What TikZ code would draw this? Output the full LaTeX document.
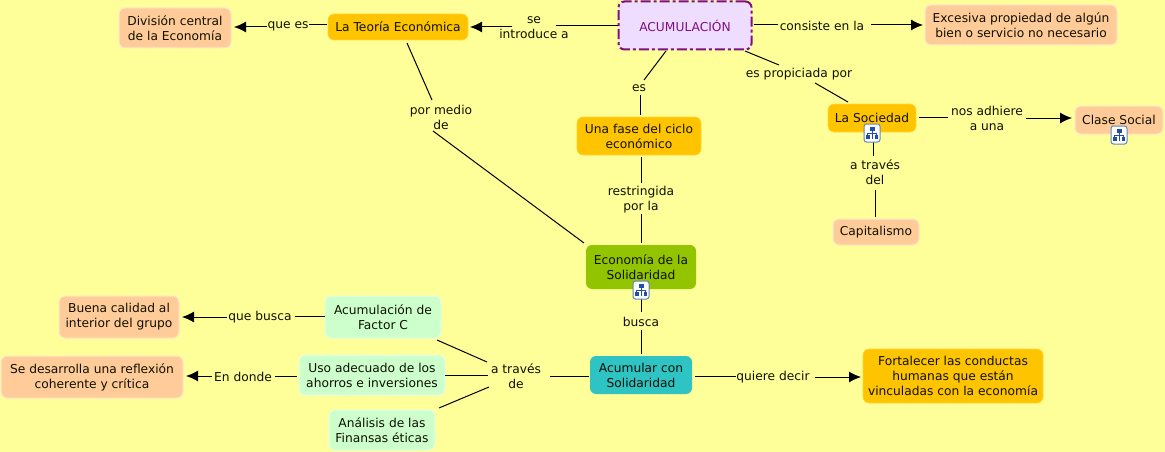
\documentclass[tikz,border=0pt]{standalone}
\usepackage{fontspec}
\setmainfont{DejaVu Sans}
\usetikzlibrary{arrows.meta}
\definecolor{bgc}{HTML}{FFFF99}
\definecolor{peach}{HTML}{FFCC99}
\definecolor{amber}{HTML}{FFC400}
\definecolor{leaf}{HTML}{93C400}
\definecolor{teal2}{HTML}{2EC4C4}
\definecolor{mint}{HTML}{CCFFCC}
\definecolor{lilac}{HTML}{EEDDFF}
\definecolor{purp}{HTML}{800F80}
\definecolor{ink}{HTML}{101000}
\definecolor{iconb}{HTML}{1F4FA8}
\tikzset{
  x=1pt,y=-1pt,
  box/.style={rectangle,rounded corners=6pt,align=center,inner sep=0pt,text=ink,
    font=\fontsize{12.25}{15}\selectfont},
  peachbox/.style={box,fill=peach,draw=peach!50!white,line width=1pt},
  amberbox/.style={box,fill=amber,draw=amber!70!bgc,line width=.6pt},
  mintbox/.style={box,fill=mint,draw=mint!50!white,line width=1pt},
  lbl/.style={align=center,inner sep=0pt,text=ink,font=\fontsize{12.25}{15}\selectfont},
  conn/.style={draw=black,line width=1pt},
  arrow/.style={conn,-{Latex[length=12pt,width=11pt]}},
  hierbox/.style={rectangle,rounded corners=2.5pt,draw=iconb!70!white,fill=white,line width=1pt,
    minimum width=16pt,minimum height=18pt,inner sep=0pt},
  hierpart/.style={fill=iconb,draw=none},
  hierline/.style={draw=iconb,line width=.6pt}
}
\newcommand{\hiericon}[2]{%
  \node[hierbox] (#1) at (#2) {};
  \fill[hierpart] ([shift={(-2.5,-6)}]#1.center) rectangle ([shift={(2.5,-2.5)}]#1.center);
  \fill[hierpart] ([shift={(-6,2)}]#1.center) rectangle ([shift={(-2.5,6)}]#1.center);
  \fill[hierpart] ([shift={(2.5,2)}]#1.center) rectangle ([shift={(6,6)}]#1.center);
  \draw[hierline] ([shift={(0,-2.5)}]#1.center) -- ([shift={(0,6)}]#1.center);
  \draw[hierline] ([shift={(-4.5,2)}]#1.center) -- ([shift={(-4.5,0)}]#1.center) -- ([shift={(4.5,0)}]#1.center) -- ([shift={(4.5,2)}]#1.center);
}
\newcommand{\off}[3]{([shift={(#2,#3)}]#1.center)}
\begin{document}
\begin{tikzpicture}
\useasboundingbox[fill=bgc] (0,0) rectangle (1165,452);
% concepts
\node[box,fill=lilac,draw=purp,line width=2pt,dash pattern=on 10pt off 3pt on 3pt off 3pt,text=purp,minimum width=133pt,minimum height=48pt] (acum) at (685,25.5) {\raisebox{-1pt}{ACUMULACIÓN}};
\node[amberbox,minimum width=140pt,minimum height=26pt] (teoria) at (398,27) {\raisebox{-1pt}{La Teoría Económica}};
\node[peachbox,minimum width=112pt,minimum height=40pt] (division) at (175,28) {División central\\de la Economía};
\node[peachbox,minimum width=192pt,minimum height=40pt] (excesiva) at (1021,25) {Excesiva propiedad de algún\\bien o servicio no necesario};
\node[amberbox,minimum width=124pt,minimum height=38pt] (fase) at (639,136) {Una fase del ciclo\\económico};
\node[amberbox,minimum width=88pt,minimum height=28pt] (sociedad) at (872,118) {\raisebox{1pt}{La Sociedad}};
\node[peachbox,minimum width=88pt,minimum height=28pt] (clase) at (1119,120) {\raisebox{1pt}{Clase Social}};
\node[peachbox,minimum width=86pt,minimum height=26pt] (capital) at (876,232) {Capitalismo};
\node[box,fill=leaf,minimum width=110pt,minimum height=44pt] (econ) at (641,267) {Economía de la\\Solidaridad};
\node[box,fill=teal2,minimum width=102pt,minimum height=38pt] (acumular) at (641,375) {Acumular con\\Solidaridad};
\node[amberbox,minimum width=180pt,minimum height=54pt] (fort) at (953,376) {Fortalecer las conductas\\humanas que están\\vinculadas con la economía};
\node[mintbox,minimum width=116pt,minimum height=42pt] (factor) at (383,317) {Acumulación de\\Factor C};
\node[mintbox,minimum width=146pt,minimum height=40pt] (uso) at (372,375) {Uso adecuado de los\\ahorros e inversiones};
\node[mintbox,minimum width=106pt,minimum height=40pt] (analisis) at (382,430) {Análisis de las\\Finansas éticas};
\node[peachbox,minimum width=120pt,minimum height=42pt] (buena) at (119,317) {Buena calidad al\\interior del grupo};
\node[peachbox,minimum width=182pt,minimum height=42pt] (sedes) at (92,377) {Se desarrolla una reflexión\\coherente y crítica};
% link labels
\node[lbl] (lqe) at (288,26) {que es};
\node[lbl] (lse) at (534,27.5) {se\\introduce a};
\node[lbl] (lcon) at (822,26) {consiste en la};
\node[lbl] (lpro) at (799,74) {es propiciada por};
\node[lbl] (les) at (639,88) {es};
\node[lbl] (lpor) at (441,117.5) {por medio\\de};
\node[lbl] (lres) at (641,200) {restringida\\por la};
\node[lbl] (lnos) at (987,118) {nos adhiere\\a una};
\node[lbl] (latd) at (875,172) {a través\\del};
\node[lbl] (lbus) at (641,322) {busca};
\node[lbl] (latr) at (516,376) {a través\\de};
\node[lbl] (lqui) at (773,377) {quiere decir};
\node[lbl] (lqb) at (260,317) {que busca};
\node[lbl] (lend) at (243,377) {En donde};
% connectors
\draw[conn] \off{teoria}{-71}{-2} -- \off{lqe}{21}{-1};
\draw[arrow] \off{lqe}{-21}{1} -- \off{division}{59}{-1};
\draw[conn] \off{acum}{-67}{0.5} -- \off{lse}{22}{-1.5};
\draw[arrow] \off{lse}{-22}{-0.5} -- \off{teoria}{72}{0};
\draw[conn] \off{acum}{69}{-0.5} -- \off{lcon}{-44}{-1};
\draw[arrow] \off{lcon}{49}{-1} -- \off{excesiva}{-98}{0};
\draw[conn] \off{acum}{60}{25.5} -- \off{lpro}{-20}{-9};
\draw[conn] \off{lpro}{16}{9} -- \off{sociedad}{-24}{-16};
\draw[conn] \off{acum}{-19}{25.5} -- \off{les}{5}{-8};
\draw[conn] \off{les}{1}{7} -- \off{fase}{1}{-21};
\draw[conn] \off{fase}{2}{21} -- \off{lres}{0}{-17};
\draw[conn] \off{lres}{0}{14} -- \off{econ}{0}{-24};
\draw[conn] \off{teoria}{9}{16} -- \off{lpor}{-9}{-17.5};
\draw[conn] \off{lpor}{-8}{13.5} -- \off{econ}{-57}{-24};
\draw[conn] \off{sociedad}{47}{-1} -- \off{lnos}{-39}{-1};
\draw[arrow] \off{lnos}{39}{0} -- \off{clase}{-47}{-2};
\draw[conn] \off{sociedad}{1.5}{23} -- \off{latd}{-1.5}{-16};
\draw[conn] \off{latd}{0}{18} -- \off{capital}{-1}{-15};
\draw[conn] \off{econ}{0}{31} -- \off{lbus}{0}{-10};
\draw[conn] \off{lbus}{0}{8} -- \off{acumular}{0}{-21};
\draw[conn] \off{acumular}{-52}{1} -- \off{latr}{34}{0};
\draw[conn] \off{factor}{54}{23} -- \off{latr}{-29}{-14};
\draw[conn] \off{uso}{73}{0} -- \off{latr}{-28}{-1};
\draw[conn] \off{analisis}{57}{-22} -- \off{latr}{-27}{11};
\draw[conn] \off{factor}{-58}{-1} -- \off{lqb}{35}{-1};
\draw[arrow] \off{lqb}{-33}{0} -- \off{buena}{63}{0};
\draw[conn] \off{uso}{-75}{1} -- \off{lend}{32}{-1};
\draw[arrow] \off{lend}{-31}{-1} -- \off{sedes}{94}{-1};
\draw[conn] \off{acumular}{54}{1} -- \off{lqui}{-37}{-1};
\draw[arrow] \off{lqui}{42}{0} -- \off{fort}{-92}{1};
% hierarchy icons
\hiericon{ieco}{641,290}
\hiericon{isoc}{872,133}
\hiericon{icla}{1119,135}
\end{tikzpicture}
\end{document}
